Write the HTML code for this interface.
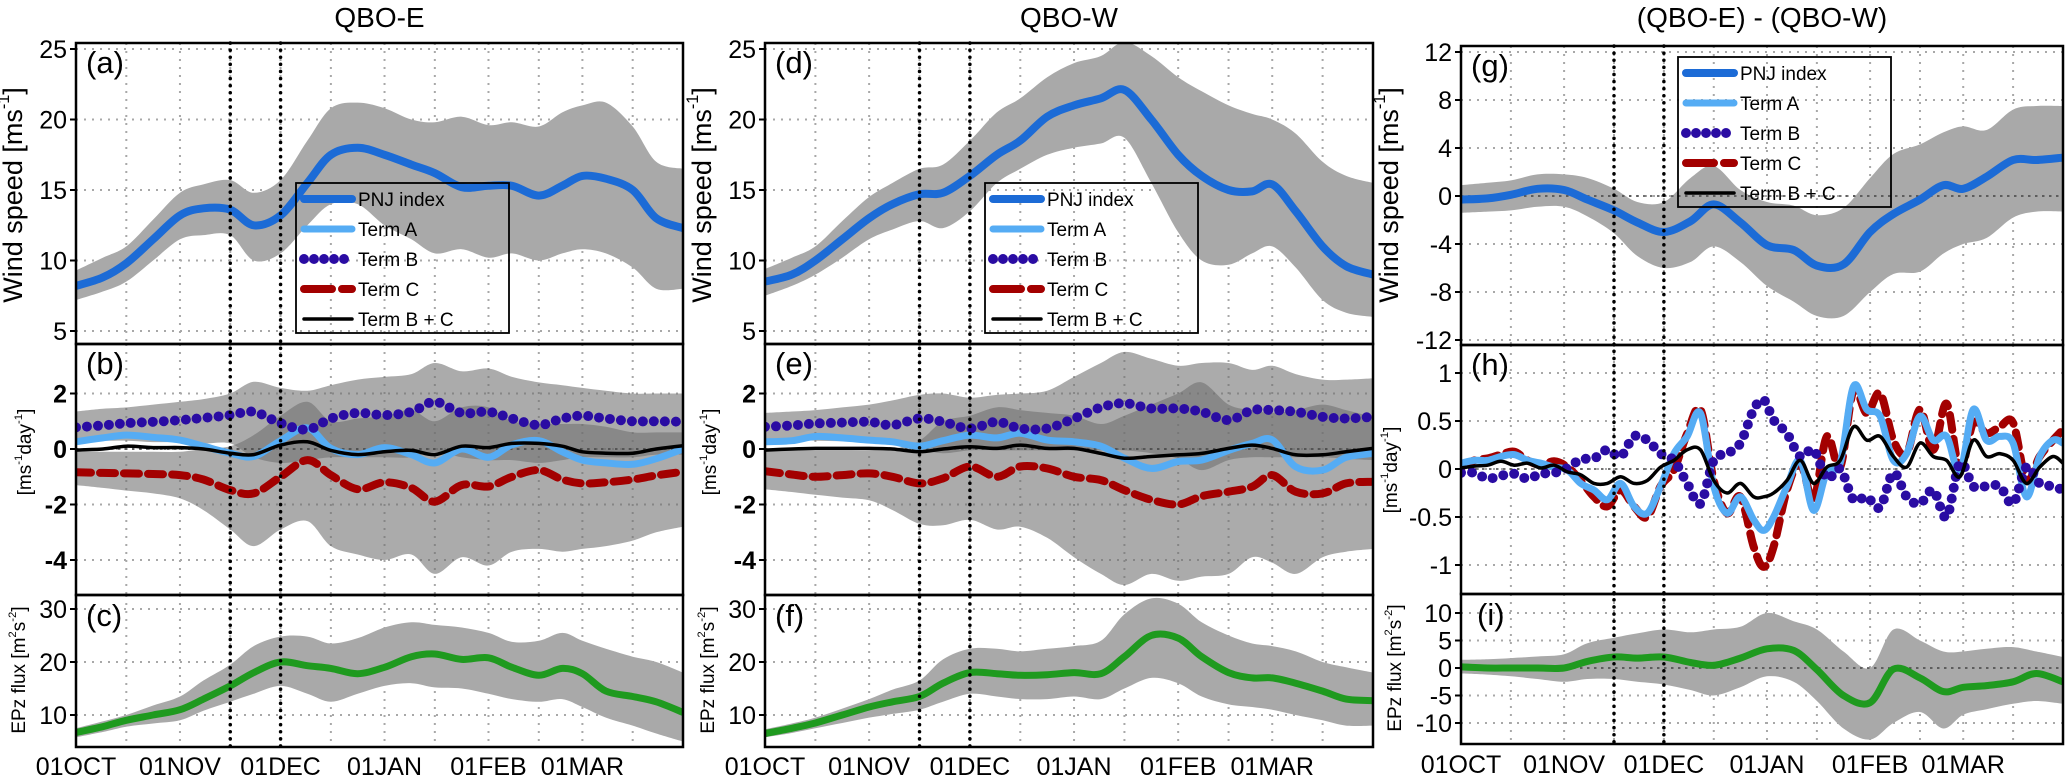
<!DOCTYPE html>
<html><head><meta charset="utf-8"><title>PNJ wind speed budget, QBO-E vs QBO-W</title>
<style>
html,body{margin:0;padding:0;background:#fff;}
svg{display:block;font-family:"Liberation Sans","DejaVu Sans",sans-serif;}
</style></head>
<body>
<svg id="fig" width="2067" height="783" viewBox="0 0 2067 783" xmlns="http://www.w3.org/2000/svg"></svg>
<script>
// ---------------- DATA ----------------
const DAYS = [0,8,15,23,31,38,46,53,61,69,76,84,92,100,107,115,123,130,138,145,151,158,166,173,181];
const DAYS_H = [0,4,8,12,16,20,24,28,32,36,40,44,48,52,56,60,64,68,72,76,80,84,88,91,94,98,102,106,110,114,118,122,126,130,134,138,142,146,150,154,158,162,166,170,174,178,181];
const X_TICK_LABELS = ["01OCT","01NOV","01DEC","01JAN","01FEB","01MAR"];
const X_TICK_DAYS = [0,31,61,92,123,151];
const X_GRID_DAYS = [15,31,46,61,76,92,107,123,138,151,166];
const MARK_DAYS = [46,61];

// QBO-E
const PNJ_E = [8.2,8.8,9.8,11.5,13.2,13.7,13.6,12.5,13.2,15.5,17.5,18.0,17.5,16.8,16.2,15.2,15.3,15.3,14.6,15.3,16.0,15.8,15.0,13.0,12.3];
const PNJ_E_HI = [9.3,10.2,11,12.9,14.8,15.4,15.7,14.8,15.7,18.5,20.8,21.2,20.8,20.0,19.8,20.2,19.6,19.8,19.5,20.5,21,21.2,19.5,17.0,16.5];
const PNJ_E_LO = [7.2,7.8,8.5,10.0,11.5,11.8,11.8,10.0,10.5,12.5,14.0,14.0,12.5,11.5,10.5,10.8,10.2,10.5,10.0,10.5,10.8,10.5,9.5,8.0,8.0];
const A_E = [0.26,0.4,0.5,0.42,0.32,0.1,-0.15,-0.27,0.3,0.76,0.02,-0.2,0.05,-0.2,-0.5,0.0,-0.3,0.15,0.3,-0.1,-0.4,-0.5,-0.55,-0.35,0.0];
const B_E = [0.78,0.85,0.93,0.98,1.04,1.12,1.22,1.34,0.93,0.7,1.1,1.3,1.22,1.34,1.7,1.3,1.34,1.1,0.86,1.1,1.2,1.1,1.0,1.0,0.98];
const C_E = [-0.84,-0.86,-0.88,-0.9,-0.94,-1.1,-1.48,-1.6,-1.0,-0.4,-0.94,-1.45,-1.2,-1.4,-1.9,-1.3,-1.35,-1.0,-0.76,-1.1,-1.24,-1.2,-1.1,-0.95,-0.82];
const BC_E = [-0.04,0.0,0.1,0.05,0.05,0.0,-0.15,-0.2,0.14,0.26,-0.05,-0.2,-0.1,-0.05,-0.2,0.1,0.05,0.2,0.2,0.1,-0.1,-0.15,-0.15,0.0,0.12];
const B_E_HI = [1.35,1.45,1.5,1.6,1.7,1.8,2.0,2.42,2.2,2.1,2.3,2.5,2.6,2.7,3.1,2.8,2.9,2.6,2.4,2.3,2.2,2.1,2.0,2.0,2.0];
const B_E_LO = [0.35,0.3,0.3,0.25,0.25,0.2,0.2,-0.3,-0.5,-0.4,-0.3,-0.3,-0.3,-0.3,-0.1,-0.3,-0.4,-0.4,-0.5,-0.4,-0.3,-0.3,-0.3,-0.2,-0.2];
const C_E_HI = [-0.1,-0.1,-0.1,-0.1,-0.1,0.0,0.1,0.5,1.2,1.7,1.0,1.1,1.2,1.4,1.0,1.5,1.5,1.0,0.9,0.9,0.9,0.8,0.6,0.6,0.6];
const C_E_LO = [-1.3,-1.4,-1.5,-1.6,-1.78,-2.2,-2.9,-3.5,-2.9,-2.6,-3.5,-3.8,-4.0,-3.8,-4.5,-3.9,-4.2,-3.7,-3.6,-3.7,-3.6,-3.5,-3.3,-3.0,-2.8];
const EPZ_E = [6.7,7.8,9.0,10.0,11.0,13.0,15.5,18.0,20.0,19.3,18.8,17.8,19.0,21.0,21.5,20.5,20.8,19.0,17.5,18.8,17.8,14.5,13.5,12.5,10.5];
const EPZ_E_HI = [7.5,8.8,10,11.8,13.5,16.5,19.5,23,24.8,24.8,23.5,24.5,26.5,27.5,27,26.5,25.5,23.8,24,25.5,24,22.5,21,20,18];
const EPZ_E_LO = [5.8,6.8,7.8,8.4,9.0,10.8,12.5,14.0,15.5,14.0,12.5,14.0,15.5,16.0,15.2,15.0,14.0,13.0,12.5,13.0,11.5,9.5,8.0,6.5,5.0];

// QBO-W
const PNJ_W = [8.5,9.0,10,11.5,13.0,14.0,14.7,14.8,16.0,17.5,18.5,20.2,21.0,21.5,22.1,20.0,17.5,16.0,15.0,14.9,15.4,13.5,11.0,9.6,9.0];
const PNJ_W_HI = [9.4,10.2,11,12.8,14.5,15.5,16.5,16.8,18.5,20.5,21.5,23,24,24.5,25.5,24.5,23,22,21,20.4,20.0,19,17,16,15.5];
const PNJ_W_LO = [7.5,8.2,9,10.2,11.5,12.2,12.8,12.3,13.5,15.5,16.5,17.5,18.0,18.3,18.7,15.5,12.0,10.0,9.7,10.5,11,9.5,7.2,6.3,6.0];
const A_W = [0.26,0.3,0.45,0.4,0.32,0.26,0.1,0.3,0.5,0.4,0.57,0.32,0.26,0.1,-0.33,-0.7,-0.45,-0.4,-0.05,0.2,0.33,-0.64,-0.76,-0.3,-0.16];
const B_W = [0.8,0.85,0.92,0.95,0.98,0.86,1.1,0.98,0.74,0.98,0.74,0.74,1.1,1.5,1.65,1.46,1.46,1.34,1.04,1.4,1.4,1.34,1.16,1.1,1.16];
const C_W = [-0.8,-0.92,-1.0,-0.94,-0.88,-1.0,-1.24,-1.06,-0.63,-1.0,-0.63,-0.7,-1.0,-1.12,-1.48,-1.83,-2.0,-1.7,-1.54,-1.36,-0.94,-1.54,-1.6,-1.24,-1.18];
const BC_W = [-0.04,0.0,0.02,0.02,0.02,0.0,-0.1,0.0,0.08,0.02,0.14,0.02,0.02,-0.16,-0.33,-0.27,-0.21,-0.16,0.02,0.14,0.02,-0.21,-0.21,-0.1,0.02];
const B_W_HI = [1.3,1.35,1.4,1.5,1.6,1.75,1.95,2.0,1.85,1.95,2.0,2.1,2.6,3.1,3.5,3.25,3.0,3.1,3.1,2.85,3.0,2.7,2.5,2.5,2.55];
const B_W_LO = [0.35,0.32,0.3,0.28,0.25,0.3,0.0,-0.15,-0.05,-0.05,-0.05,-0.05,-0.05,-0.05,-0.05,-0.15,-0.35,-0.76,-0.4,-0.3,-0.3,-0.3,-0.3,-0.35,-0.4];
const C_W_HI = [-0.05,-0.05,-0.05,-0.05,-0.05,0.0,0.3,1.0,1.2,1.5,1.4,1.3,1.2,0.9,1.2,1.6,2.0,2.4,1.6,1.4,1.3,1.4,1.6,1.4,1.16];
const C_W_LO = [-1.45,-1.55,-1.65,-1.75,-1.85,-2.2,-2.7,-2.75,-2.55,-2.9,-2.8,-3.2,-3.9,-4.5,-4.9,-4.5,-4.75,-4.6,-4.5,-3.9,-4.1,-4.5,-3.9,-3.7,-3.6];
const EPZ_W = [6.5,7.5,8.5,10,11.5,12.5,13.5,16.0,18.0,17.8,17.5,17.6,18.0,17.8,21.0,25.0,24.5,21.0,18.0,17.0,17.0,16.0,14.5,13.0,12.7];
const EPZ_W_HI = [7.3,8.4,9.5,11.2,13,14.8,16.5,20.5,22.5,22.5,22,22.5,23,24,29,32,31,27.5,25,23.5,23,22,20,19,18];
const EPZ_W_LO = [5.8,6.6,7.5,8.5,9.5,10.2,11,12.5,14,13.5,13,13,13.5,13,15,17,16,13.5,12,11.5,11,10,9,8,8];

// (QBO-E) - (QBO-W)
const PNJ_D = [-0.3,-0.2,0.1,0.6,0.5,-0.3,-1.2,-2.2,-3.0,-2.1,-0.7,-2.2,-4.1,-4.5,-5.8,-5.7,-3.0,-1.5,-0.3,0.9,0.6,1.6,3.0,3.0,3.2];
const PNJ_D_HI = [0.9,1.1,1.3,1.8,1.8,1.5,0.6,-0.5,-0.5,1.5,2.5,0.5,-0.5,-0.8,-1.6,-1.0,1.5,3.5,4.3,5.3,5.8,5.5,7.2,7.5,7.5];
const PNJ_D_LO = [-1.4,-1.3,-1.2,-0.9,-0.9,-1.7,-3.1,-5,-6,-5.5,-4.2,-5.5,-7.5,-8.8,-10.0,-10.0,-8,-6.5,-6.3,-4.8,-4.0,-3.5,-1.8,-1.3,-1.3];
const A_D = [0.06,0.09,0.09,0.13,0.15,0.09,0.06,0.02,-0.01,-0.15,-0.22,-0.32,-0.15,-0.39,-0.46,-0.18,0.16,0.34,0.58,-0.18,-0.46,-0.29,-0.53,-0.64,-0.5,-0.18,0.09,-0.43,-0.03,0.06,0.86,0.62,0.55,0.09,0.16,0.55,0.3,0.34,-0.03,0.62,0.3,0.34,0.27,-0.29,0.13,0.3,0.27];
const B_D = [-0.04,-0.04,-0.1,-0.07,-0.05,-0.1,-0.05,-0.04,0.01,0.1,0.11,0.2,0.13,0.34,0.3,0.16,0.09,-0.15,-0.36,0.09,0.16,0.27,0.62,0.72,0.51,0.37,0.13,0.2,-0.1,0.0,-0.32,-0.29,-0.4,-0.04,-0.29,-0.36,-0.22,-0.5,0.06,-0.18,-0.18,-0.18,-0.36,0.02,-0.15,-0.18,-0.22];
const C_D = [0.02,0.09,0.11,0.15,0.18,0.09,0.04,0.08,0.02,-0.12,-0.29,-0.39,-0.22,-0.39,-0.5,-0.18,-0.01,0.37,0.62,-0.12,-0.46,-0.29,-0.81,-1.02,-0.81,-0.22,0.06,-0.32,0.34,0.02,0.82,0.58,0.79,0.3,0.16,0.62,0.2,0.68,-0.01,0.48,0.37,0.44,0.48,-0.12,0.13,0.3,0.41];
const BC_D = [0.01,0.03,0.04,0.08,0.04,0.06,0.01,0.04,-0.03,-0.06,-0.15,-0.15,-0.08,-0.15,-0.12,0.02,0.09,0.2,0.2,-0.12,-0.25,-0.15,-0.29,-0.29,-0.25,-0.12,0.09,-0.15,0.02,0.09,0.44,0.3,0.34,0.13,0.02,0.27,0.13,0.09,-0.08,0.3,0.13,0.16,0.09,-0.15,0.02,0.13,0.06];
const EPZ_D = [0.2,0,0,0,0,1.2,2.0,1.8,2.0,1.0,0.5,1.8,3.5,3.2,-0.3,-5.0,-6.3,-0.2,-1.8,-4.3,-3.5,-3.2,-2.5,-1.0,-2.5];
const EPZ_D_HI = [1.5,1.6,1.8,2.1,2.5,4.5,5.5,6.3,7,6.5,7,7.5,10,8.5,7,3,0,7,5,3,3,3.5,3.8,3,2];
const EPZ_D_LO = [-1,-1.2,-1.5,-2,-2.5,-2,-2,-2.5,-3,-4,-5,-3.5,-1.5,-2.5,-6,-11,-13,-10,-8,-11,-8.5,-7.5,-6.5,-6,-6.5];

const Y_TICKS_WIND = [5,10,15,20,25];
const Y_TICKS_TEND = [-4,-2,0,2];
const Y_TICKS_EPZ = [10,20,30];
const Y_TICKS_WIND_D = [-12,-8,-4,0,4,8,12];
const Y_TICKS_TEND_D = [-1,-0.5,0,0.5,1];
const Y_TICKS_EPZ_D = [-10,-5,0,5,10];

// ---------------- LAYOUT ----------------
const NS = "http://www.w3.org/2000/svg";
const svg = document.getElementById('fig');
const COLOR = {pnj:'#1c6bd6', a:'#55acf4', b:'#2a0ca3', c:'#a30000', bc:'#000', epz:'#1f9a1f', band:'#a9a9a9'};
const DMAX = 181;

function el(tag, attrs, parent){
  const e = document.createElementNS(NS, tag);
  for (const k in attrs) e.setAttribute(k, attrs[k]);
  (parent||svg).appendChild(e);
  return e;
}
function smooth(pts){
  let d = 'M'+pts[0][0].toFixed(1)+','+pts[0][1].toFixed(1);
  for (let i=0;i<pts.length-1;i++){
    const p0=pts[Math.max(0,i-1)], p1=pts[i], p2=pts[i+1], p3=pts[Math.min(pts.length-1,i+2)];
    const c1x=p1[0]+(p2[0]-p0[0])/6, c1y=p1[1]+(p2[1]-p0[1])/6;
    const c2x=p2[0]-(p3[0]-p1[0])/6, c2y=p2[1]-(p3[1]-p1[1])/6;
    d+='C'+c1x.toFixed(1)+','+c1y.toFixed(1)+' '+c2x.toFixed(1)+','+c2y.toFixed(1)+' '+p2[0].toFixed(1)+','+p2[1].toFixed(1);
  }
  return d;
}
let clipId = 0;
function makePanel(col, top, bot, v1, y1, v2, y2){
  const k = (y2-y1)/(v2-v1);
  const P = {x0:col.x0, x1:col.x1, top, bot,
    xs: d => col.x0 + (col.x1-col.x0)*d/DMAX,
    ys: v => y1 + (v-v1)*k};
  const cp = el('clipPath', {id:'cp'+(++clipId)});
  el('rect', {x:col.x0, y:top, width:col.x1-col.x0, height:bot-top}, cp);
  P.clip = 'url(#cp'+clipId+')';
  P.g = el('g', {'clip-path':P.clip});
  return P;
}
function grid(P, yticks){
  const g = el('g', {}, P.g);
  
  
  X_GRID_DAYS.forEach(d => {
    el('line', {x1:P.xs(d), x2:P.xs(d), y1:P.top, y2:P.bot, stroke:'#a8a8a8', 'stroke-width':2, 'stroke-dasharray':'2 6'}, g);
  });
  yticks.forEach(v => {
    el('line', {x1:P.x0, x2:P.x1, y1:P.ys(v), y2:P.ys(v), stroke:'#a8a8a8', 'stroke-width':2, 'stroke-dasharray':'2 6'}, g);
  });
}
function band(P, days, hi, lo, name, fill, op){
  const up = days.map((d,i)=>[P.xs(d), P.ys(hi[i])]);
  const dn = days.map((d,i)=>[P.xs(d), P.ys(lo[i])]).reverse();
  const d = smooth(up) + 'L' + smooth(dn).slice(1) + 'Z';
  const p = el('path', {d, fill:fill||COLOR.band, 'fill-opacity':op||1, stroke:'none'}, P.g);
  
  
}
function series(P, days, vals, name, style){
  const pts = days.map((d,i)=>[P.xs(d), P.ys(vals[i])]);
  const attrs = {d:smooth(pts), fill:'none', 'stroke-linecap':'round', 'stroke-linejoin':'round'};
  Object.assign(attrs, style);
  const p = el('path', attrs, P.g);
  
  
}
const ST = {
  pnj:{stroke:COLOR.pnj,'stroke-width':8},
  a:{stroke:COLOR.a,'stroke-width':7},
  b:{stroke:COLOR.b,'stroke-width':10,'stroke-dasharray':'0 11'},
  c:{stroke:COLOR.c,'stroke-width':8,'stroke-dasharray':'15 9'},
  bc:{stroke:COLOR.bc,'stroke-width':3.5},
  epz:{stroke:COLOR.epz,'stroke-width':7}
};
function zeroLine(P){
  const l = el('line', {x1:P.x0, x2:P.x1, y1:P.ys(0), y2:P.ys(0), stroke:'#444', 'stroke-width':1.6, 'stroke-dasharray':'2.5 4.5'}, P.g);
  
  
}
function frame(P, name){
  const r = el('rect', {x:P.x0, y:P.top, width:P.x1-P.x0, height:P.bot-P.top, fill:'none', stroke:'#000', 'stroke-width':2.5});
  
  
}
function yTicks(P, ticks, bold, name){
  const g = el('g', {});
  
  
  ticks.forEach(v => {
    const y = P.ys(v);
    el('line', {x1:P.x0-6, x2:P.x0, y1:y, y2:y, stroke:'#000', 'stroke-width':2}, g);
    const t = el('text', {x:P.x0-9, y:y+9, 'text-anchor':'end', 'font-size':25, 'font-weight':bold?'bold':'normal', fill:'#000'}, g);
    t.textContent = String(v);
  });
}
function label(x, y, txt, size, name, anchor){
  const t = el('text', {x, y, 'font-size':size, 'text-anchor':anchor||'start', fill:'#000'});
  t.textContent = txt;
  
  
  return t;
}
function yLabel(cx, cy, parts, size, name){
  const t = el('text', {x:0, y:0, 'font-size':size, 'text-anchor':'middle', fill:'#000', transform:'translate('+cx+','+cy+') rotate(-90)', 'dominant-baseline':'central'});
  parts.forEach(p => {
    const s = el('tspan', p[1] ? {'font-size':size*0.6, 'baseline-shift':'super'} : {}, t);
    s.textContent = p[0];
  });
  
  
}
function markLines(col, top, bot){
  MARK_DAYS.forEach(d => {
    const x = col.x0 + (col.x1-col.x0)*d/DMAX;
    const l = el('line', {x1:x, x2:x, y1:top, y2:bot, stroke:'#000', 'stroke-width':3.5, 'stroke-dasharray':'0.1 7', 'stroke-linecap':'round'});
    
    
  });
}
function xLabels(col, y){
  X_TICK_DAYS.forEach((d,i) => {
    const x = col.x0 + (col.x1-col.x0)*d/DMAX;
    label(x, y, X_TICK_LABELS[i], 25, 'x-tick-label', 'middle');
  });
}
function legend(bx, by, name){
  const g = el('g', {});
  
  
  el('rect', {x:bx, y:by, width:213, height:150, fill:'none', stroke:'#000', 'stroke-width':1.8}, g);
  const entries = [['PNJ index','pnj'],['Term A','a'],['Term B','b'],['Term C','c'],['Term B + C','bc']];
  entries.forEach((e,i) => {
    const y = by + 16 + i*30;
    const st = Object.assign({x1:bx+8, x2:bx+56, y1:y, y2:y, 'stroke-linecap':'round'}, ST[e[1]]);
    if (e[1]==='b') st['stroke-dasharray']='0 10';
    if (e[1]==='c') st['stroke-dasharray']='28 10';
    el('line', st, g);
    const t = el('text', {x:bx+62, y:y+7, 'font-size':19, fill:'#000'}, g);
    t.textContent = e[0];
  });
}

// ---------------- BUILD ----------------
const COLS = [{x0:76,x1:683},{x0:765,x1:1373},{x0:1461,x1:2063}];
const SETS = [
  {pnj:[PNJ_E,PNJ_E_HI,PNJ_E_LO], a:A_E, b:B_E, c:C_E, bc:BC_E, bb:[B_E_HI,B_E_LO], cb:[C_E_HI,C_E_LO], epz:[EPZ_E,EPZ_E_HI,EPZ_E_LO], title:'QBO-E', L:['(a)','(b)','(c)']},
  {pnj:[PNJ_W,PNJ_W_HI,PNJ_W_LO], a:A_W, b:B_W, c:C_W, bc:BC_W, bb:[B_W_HI,B_W_LO], cb:[C_W_HI,C_W_LO], epz:[EPZ_W,EPZ_W_HI,EPZ_W_LO], title:'QBO-W', L:['(d)','(e)','(f)']}
];
const YLX = [[13,25,19],[702,710,708],[1389,1391,1395]];

SETS.forEach((S, ci) => {
  const col = COLS[ci];
  const pa = makePanel(col, 43, 344, 25, 49, 5, 331);
  const pb = makePanel(col, 344, 595, 0, 449, 2, 393.5);
  const pc = makePanel(col, 595, 747, 30, 609, 10, 715);
  grid(pa, Y_TICKS_WIND); grid(pb, Y_TICKS_TEND); grid(pc, Y_TICKS_EPZ);
  band(pa, DAYS, S.pnj[1], S.pnj[2], 'pnj-spread-band');
  series(pa, DAYS, S.pnj[0], 'pnj-index-line', ST.pnj);
  band(pb, DAYS, S.cb[0], S.cb[1], 'term-c-spread-band', '#6e6e6e', 0.58);
  band(pb, DAYS, S.bb[0], S.bb[1], 'term-b-spread-band', '#6e6e6e', 0.58);
  zeroLine(pb);
  series(pb, DAYS, S.c, 'term-c-line', ST.c);
  series(pb, DAYS, S.a, 'term-a-line', ST.a);
  series(pb, DAYS, S.bc, 'term-b-plus-c-line', ST.bc);
  series(pb, DAYS, S.b, 'term-b-line', ST.b);
  band(pc, DAYS, S.epz[1], S.epz[2], 'epz-spread-band');
  series(pc, DAYS, S.epz[0], 'epz-flux-line', ST.epz);
  frame(pa,'panel-frame'); frame(pb,'panel-frame'); frame(pc,'panel-frame');
  markLines(col, 43, 747);
  yTicks(pa, Y_TICKS_WIND, false, 'y-ticks-wind');
  yTicks(pb, Y_TICKS_TEND, true, 'y-ticks-tendency');
  yTicks(pc, Y_TICKS_EPZ, false, 'y-ticks-epz');
  label(col.x0+10, 73, S.L[0], 31, 'panel-letter');
  label(col.x0+10, 374, S.L[1], 31, 'panel-letter');
  label(col.x0+10, 626, S.L[2], 31, 'panel-letter');
  label((col.x0+col.x1)/2, 27, S.title, 28, 'column-title', 'middle');
  yLabel(YLX[ci][0], 195, [['Wind speed [ms'],['-1',1],[']']], 27, 'y-axis-title-wind');
  yLabel(YLX[ci][1], 452, [['[ms'],['-1',1],['day'],['-1',1],[']']], 19, 'y-axis-title-tendency');
  yLabel(YLX[ci][2], 670, [['EPz flux [m'],['2',1],['s'],['-2',1],[']']], 19, 'y-axis-title-epz');
  xLabels(col, 775);
  legend(ci===0?296:985, 183, 'legend');
});

// difference column
(function(){
  const col = COLS[2];
  const pg = makePanel(col, 46, 345, 0, 196, 12, 52);
  const ph = makePanel(col, 345, 594, 0, 469, 1, 373);
  const pi = makePanel(col, 594, 744, 0, 668, 10, 613);
  grid(pg, Y_TICKS_WIND_D); grid(ph, Y_TICKS_TEND_D); grid(pi, Y_TICKS_EPZ_D);
  band(pg, DAYS, PNJ_D_HI, PNJ_D_LO, 'pnj-difference-band');
  zeroLine(pg);
  series(pg, DAYS, PNJ_D, 'pnj-difference-line', ST.pnj);
  zeroLine(ph);
  series(ph, DAYS_H, C_D, 'term-c-difference-line', ST.c);
  series(ph, DAYS_H, A_D, 'term-a-difference-line', ST.a);
  series(ph, DAYS_H, B_D, 'term-b-difference-line', ST.b);
  series(ph, DAYS_H, BC_D, 'term-b-plus-c-difference-line', ST.bc);
  band(pi, DAYS, EPZ_D_HI, EPZ_D_LO, 'epz-difference-band');
  zeroLine(pi);
  series(pi, DAYS, EPZ_D, 'epz-difference-line', ST.epz);
  frame(pg,'panel-frame'); frame(ph,'panel-frame'); frame(pi,'panel-frame');
  markLines(col, 46, 744);
  yTicks(pg, Y_TICKS_WIND_D, false, 'y-ticks-wind-difference');
  yTicks(ph, Y_TICKS_TEND_D, false, 'y-ticks-tendency-difference');
  yTicks(pi, Y_TICKS_EPZ_D, false, 'y-ticks-epz-difference');
  label(col.x0+10, 76, '(g)', 31, 'panel-letter');
  label(col.x0+10, 375, '(h)', 31, 'panel-letter');
  label(col.x0+16, 625, '(i)', 31, 'panel-letter');
  label(1762, 27, '(QBO-E) - (QBO-W)', 28, 'column-title', 'middle');
  yLabel(YLX[2][0], 195, [['Wind speed [ms'],['-1',1],[']']], 27, 'y-axis-title-wind');
  yLabel(YLX[2][1], 470, [['[ms'],['-1',1],['day'],['-1',1],[']']], 19, 'y-axis-title-tendency');
  yLabel(YLX[2][2], 668, [['EPz flux [m'],['2',1],['s'],['-2',1],[']']], 19, 'y-axis-title-epz');
  xLabels(col, 773);
  legend(1678, 57, 'legend');
})();
</script>
</body></html>
